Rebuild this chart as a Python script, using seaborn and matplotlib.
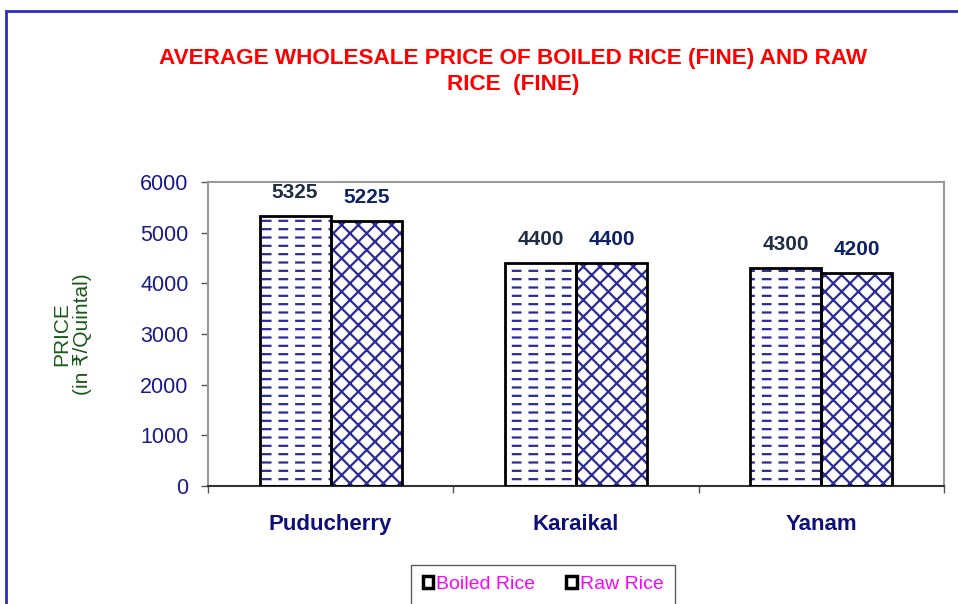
import matplotlib
matplotlib.use("Agg")
import matplotlib.pyplot as plt
import numpy as np
import pandas as pd
import seaborn as sns
from matplotlib.patches import Rectangle

# chart data
districts = ["Puducherry", "Karaikal", "Yanam"]
boiled_rice = [5325, 4400, 4300]
raw_rice = [5225, 4400, 4200]
series = ["Boiled Rice", "Raw Rice"]
y_ticks = [0, 1000, 2000, 3000, 4000, 5000, 6000]

df = pd.DataFrame({
    "district": districts * 2,
    "series": [series[0]] * 3 + [series[1]] * 3,
    "price": boiled_rice + raw_rice,
})

sns.set_theme(style="white")
plt.rcParams["font.family"] = ["Liberation Sans", "DejaVu Sans"]
plt.rcParams["hatch.linewidth"] = 1.6

fig = plt.figure(figsize=(9.58, 6.04), dpi=100)
ax = fig.add_axes([0.2171, 0.1954, 0.7683, 0.5033])

sns.barplot(data=df, x="district", y="price", hue="series", ax=ax,
            width=0.58, gap=0, palette=["white", "white"], legend=False)

hatches = ["--", "xx"]
label_colors = ["#1f2d45", "#0d2266"]
for i, container in enumerate(ax.containers):
    for bar in container:
        bar.set_hatch(hatches[i])
        bar.set_edgecolor("#2a2a9a")
        bar.set_linewidth(0)
    ax.bar_label(container, fmt="%d", padding=10, fontsize=15, fontweight="bold",
                 color=label_colors[i])

# white vertical hatch over boiled bars breaks the lines into dashes
plt.rcParams["hatch.linewidth"] = 5
for bar in ax.containers[0]:
    ax.add_patch(Rectangle(bar.get_xy(), bar.get_width(), bar.get_height(),
                           fill=False, hatch="|", edgecolor="white", linewidth=0,
                           zorder=2.5))
plt.rcParams["hatch.linewidth"] = 1.6

# black outlines on top
for container in ax.containers:
    for bar in container:
        ax.add_patch(Rectangle(bar.get_xy(), bar.get_width(), bar.get_height(),
                               fill=False, edgecolor="black", linewidth=2, zorder=3))

ax.set_ylim(0, 6000)
ax.set_yticks(y_ticks)
ax.set_xlim(-0.5, 2.5)
ax.tick_params(axis="y", labelsize=15.5, labelcolor="#1a1a8a", length=5, width=1,
               color="#555555", left=True, pad=9)
ax.tick_params(axis="x", length=0, pad=20)
for lab in ax.get_xticklabels():
    lab.set_fontweight("bold")
    lab.set_fontsize(16)
    lab.set_color("#10107a")
ax.set_xticks([-0.5, 0.5, 1.5, 2.5], minor=True)
ax.tick_params(axis="x", which="minor", bottom=True, length=5, width=1, color="#555555")
ax.set_xlabel("")
ax.set_ylabel("PRICE\n(in ₹/Quintal)", fontsize=15, color="#1a5a1a", linespacing=1.1)
ax.yaxis.set_label_coords(-0.158, 0.5)

for side in ["top", "right", "left"]:
    ax.spines[side].set_color("#999999")
    ax.spines[side].set_linewidth(1.5)
ax.spines["bottom"].set_color("#333333")
ax.spines["bottom"].set_linewidth(1.5)

fig.text(0.536, 0.881, "AVERAGE WHOLESALE PRICE OF BOILED RICE (FINE) AND RAW\nRICE  (FINE)",
         ha="center", va="center", fontsize=16.2, fontweight="bold", color="#ff0000",
         linespacing=1.3)

# outer chart frame (blue), open on right and bottom
fig.add_artist(Rectangle((0.0063, -0.05), 1.05, 0.982 + 0.05, transform=fig.transFigure,
                         fill=False, edgecolor="#2b2bc8", linewidth=2))

# legend
handles = [Rectangle((0, 0), 1, 1, facecolor="white", edgecolor="black", linewidth=2.5),
           Rectangle((0, 0), 1, 1, facecolor="white", edgecolor="black", linewidth=2.5)]
leg = fig.legend(handles, series, loc="center", bbox_to_anchor=(0.567, 0.032),
                 ncol=2, frameon=True, fancybox=False, fontsize=14,
                 handlelength=0.55, handleheight=0.55, handletextpad=0.15,
                 columnspacing=1.6, borderpad=0.6, borderaxespad=0)
leg.get_frame().set_edgecolor("#333333")
leg.get_frame().set_linewidth(1)
for t in leg.get_texts():
    t.set_color("#ff00ff")

fig.savefig("out.png", dpi=100, facecolor="white")
